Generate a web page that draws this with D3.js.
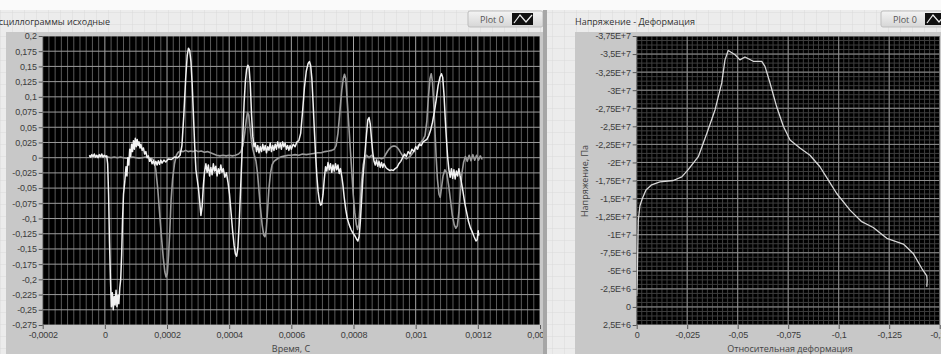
<!DOCTYPE html>
<html>
<head>
<meta charset="utf-8">
<script src="https://cdn.jsdelivr.net/npm/d3@7"></script>
<style>
  html, body { margin: 0; padding: 0; background: #fafafa; }
  svg { display: block; font-family: "Open Sans", "Noto Sans", sans-serif; }
  .axis text { font-size: 9px; fill: #3c3c3c; letter-spacing: -0.2px; }
  .axis path { display: none; }
  .axis line { stroke: #555; }
</style>
</head>
<body>
<svg id="chart" width="941" height="354"></svg>
<script>
// ---- data ----
const timeTicks = [-0.0002, 0, 0.0002, 0.0004, 0.0006, 0.0008, 0.001, 0.0012, 0.0014];
const timeTickLabels = ["-0,0002", "0", "0,0002", "0,0004", "0,0006", "0,0008", "0,001", "0,0012", "0,0014"];
const ampTicks = [0.2, 0.175, 0.15, 0.125, 0.1, 0.075, 0.05, 0.025, 0, -0.025, -0.05, -0.075, -0.1, -0.125, -0.15, -0.175, -0.2, -0.225, -0.25, -0.275];
const ampTickLabels = ["0,2", "0,175", "0,15", "0,125", "0,1", "0,075", "0,05", "0,025", "0", "-0,025", "-0,05", "-0,075", "-0,1", "-0,125", "-0,15", "-0,175", "-0,2", "-0,225", "-0,25", "-0,275"];

const strainTicks = [0, -0.025, -0.05, -0.075, -0.1, -0.125, -0.15];
const strainTickLabels = ["0", "-0,025", "-0,05", "-0,075", "-0,1", "-0,125", "-0,15"];
const stressTicks = [-3.75e7, -3.5e7, -3.25e7, -3e7, -2.75e7, -2.5e7, -2.25e7, -2e7, -1.75e7, -1.5e7, -1.25e7, -1e7, -7.5e6, -5e6, -2.5e6, 0, 2.5e6];
const stressTickLabels = ["-3,75E+7", "-3,5E+7", "-3,25E+7", "-3E+7", "-2,75E+7", "-2,5E+7", "-2,25E+7", "-2E+7", "-1,75E+7", "-1,5E+7", "-1,25E+7", "-1E+7", "-7,5E+6", "-5E+6", "-2,5E+6", "0", "2,5E+6"];

// oscillograms: [time in microseconds, value]
const whiteTrace = [
  [-50,0.004],[-46,0.001],[-42,0.005],[-38,0.002],[-34,0.006],[-30,0.001],[-26,0.004],[-22,0.0],[-18,0.005],[-14,0.002],[-10,0.006],[-6,0.001],[-2,0.004],[2,0.002],[6,0.003],
  [9,-0.01],[12,-0.06],[15,-0.14],[18,-0.2],[21,-0.245],[24,-0.222],[27,-0.25],[30,-0.228],[33,-0.242],[36,-0.218],[39,-0.245],[42,-0.226],[45,-0.24],[48,-0.214],[51,-0.2],
  [54,-0.16],[57,-0.1],[60,-0.06],[64,-0.04],[68,-0.015],[71,-0.03],[74,0.0],[77,-0.012],[80,0.014],[83,0.002],[86,0.022],[89,0.01],[92,0.028],[95,0.014],[98,0.032],
  [101,0.018],[104,0.03],[107,0.02],[110,0.026],[113,0.016],[116,0.022],[120,0.012],[124,0.016],[128,0.006],[132,0.01],[136,0.0],[140,0.003],[144,-0.006],[148,-0.002],
  [152,-0.01],[156,-0.005],[160,-0.012],[164,-0.006],[168,-0.012],[172,-0.005],[176,-0.011],[180,-0.004],[184,-0.009],[190,-0.004],[196,-0.007],[204,-0.002],[214,-0.003],
  [224,0.001],[234,0.0],[242,0.004],[248,0.02],[254,0.07],[260,0.13],[265,0.168],[269,0.18],[273,0.176],[277,0.158],[281,0.12],[285,0.07],[289,0.02],[293,-0.02],
  [297,-0.035],[301,-0.05],[305,-0.072],[309,-0.095],[313,-0.08],[317,-0.045],[321,-0.022],[325,-0.01],[329,-0.024],[333,-0.012],[337,-0.03],[341,-0.016],[345,-0.028],
  [349,-0.01],[353,-0.022],[357,-0.014],[361,-0.03],[365,-0.018],[369,-0.026],[373,-0.012],[377,-0.024],[381,-0.018],[386,-0.032],[391,-0.025],[396,-0.04],[401,-0.06],
  [406,-0.09],[411,-0.12],[416,-0.145],[420,-0.158],[424,-0.162],[428,-0.148],[432,-0.11],[436,-0.06],[440,-0.01],[444,0.04],[448,0.09],[452,0.125],[456,0.145],
  [460,0.152],[464,0.148],[468,0.12],[472,0.07],[476,0.035],[480,0.018],[484,0.024],[488,0.01],[492,0.02],[496,0.008],[500,0.018],[504,0.01],[508,0.022],[512,0.012],
  [516,0.02],[520,0.008],[524,0.018],[528,0.012],[532,0.024],[536,0.01],[540,0.02],[544,0.012],[548,0.022],[552,0.014],[556,0.026],[560,0.016],[564,0.024],[568,0.014],
  [572,0.026],[576,0.018],[580,0.024],[584,0.014],[588,0.02],[592,0.012],[596,0.02],[600,0.014],[606,0.022],[612,0.018],[618,0.026],[624,0.028],[630,0.04],[636,0.075],
  [642,0.115],[648,0.142],[654,0.155],[658,0.158],[662,0.152],[666,0.13],[670,0.09],[674,0.045],[678,0.005],[682,-0.03],[686,-0.055],[690,-0.07],[694,-0.078],[698,-0.076],
  [702,-0.06],[706,-0.035],[710,-0.015],[714,-0.022],[718,-0.008],[722,-0.02],[726,-0.01],[730,-0.024],[734,-0.012],[738,-0.022],[742,-0.01],[746,-0.02],[750,-0.012],
  [754,-0.026],[758,-0.018],[762,-0.03],[766,-0.045],[770,-0.065],[775,-0.085],[780,-0.1],[786,-0.11],[792,-0.118],[798,-0.124],[804,-0.128],[810,-0.134],[814,-0.137],
  [818,-0.13],[822,-0.105],[826,-0.07],[830,-0.035],[834,-0.01],[838,0.015],[842,0.04],[846,0.062],[850,0.066],[854,0.055],[858,0.03],[862,0.008],[866,-0.006],[870,-0.012],
  [874,-0.004],[878,-0.014],[882,-0.006],[886,-0.016],[890,-0.008],[894,-0.016],[898,-0.01],[904,-0.016],[910,-0.019],[916,-0.021],[922,-0.02],[928,-0.021],[934,-0.018],
  [940,-0.016],[946,-0.01],[952,-0.006],[958,0.0],[964,0.006],[970,0.002],[976,0.01],[982,0.006],[988,0.014],[994,0.01],[1000,0.018],[1006,0.014],[1012,0.022],[1018,0.02],
  [1024,0.026],[1030,0.028],[1036,0.03],[1042,0.036],[1048,0.045],[1054,0.058],[1060,0.075],[1066,0.095],[1072,0.118],[1078,0.132],[1083,0.138],[1087,0.132],[1091,0.105],
  [1095,0.065],[1099,0.03],[1103,0.0],[1107,-0.02],[1111,-0.032],[1115,-0.018],[1119,-0.034],[1123,-0.02],[1127,-0.035],[1131,-0.022],[1135,-0.03],[1139,-0.018],[1143,-0.03],
  [1147,-0.04],[1152,-0.055],[1158,-0.075],[1164,-0.09],[1170,-0.105],[1176,-0.115],[1182,-0.122],[1188,-0.13],[1194,-0.137],[1198,-0.135],[1201,-0.12],[1203,-0.128]
];

const grayTrace = [
  [-50,0.002],[-40,0.003],[-30,0.001],[-20,0.003],[-10,0.002],[0,0.002],[10,0.001],[20,0.0],[30,0.001],[40,0.0],[50,0.001],[60,0.0],[70,-0.001],[80,0.0],[90,0.001],
  [100,0.0],[110,-0.001],[120,0.0],[130,0.001],[140,0.0],[150,-0.001],[158,-0.004],[164,-0.02],[170,-0.05],[176,-0.09],[182,-0.13],[188,-0.165],[193,-0.188],[197,-0.196],
  [201,-0.19],[205,-0.16],[209,-0.12],[213,-0.07],[218,-0.035],[224,-0.01],[230,0.004],[236,0.009],[244,0.011],[252,0.01],[260,0.012],[268,0.01],[276,0.011],[284,0.01],
  [292,0.012],[300,0.01],[310,0.011],[320,0.009],[330,0.01],[340,0.008],[350,0.006],[360,0.004],[370,0.003],[380,0.004],[390,0.003],[400,0.004],[410,0.003],[420,0.004],
  [430,0.006],[438,0.01],[444,0.02],[450,0.04],[455,0.062],[459,0.074],[463,0.07],[467,0.05],[471,0.03],[476,0.014],[481,0.004],[486,-0.005],[491,-0.025],[496,-0.055],
  [501,-0.085],[506,-0.11],[511,-0.127],[515,-0.13],[519,-0.12],[523,-0.09],[528,-0.05],[533,-0.025],[538,-0.012],[544,-0.006],[552,-0.003],[560,0.0],[570,0.002],
  [580,0.003],[590,0.004],[600,0.004],[612,0.005],[624,0.004],[636,0.006],[648,0.005],[660,0.006],[672,0.007],[684,0.008],[696,0.008],[708,0.01],[720,0.011],[730,0.012],
  [738,0.014],[744,0.02],[750,0.04],[756,0.075],[762,0.11],[767,0.13],[771,0.137],[775,0.13],[779,0.1],[784,0.06],[789,0.02],[794,-0.02],[799,-0.06],[804,-0.09],
  [809,-0.11],[813,-0.118],[817,-0.11],[821,-0.08],[826,-0.04],[831,-0.012],[836,0.0],[842,0.004],[850,0.0],[858,0.004],[866,0.0],[874,-0.002],[882,0.0],[890,-0.002],
  [898,0.0],[904,0.006],[910,0.011],[916,0.015],[922,0.018],[928,0.019],[934,0.019],[940,0.017],[946,0.013],[952,0.008],[958,0.003],[964,0.0],[970,-0.002],[976,0.0],
  [982,0.002],[988,0.006],[994,0.01],[1000,0.014],[1006,0.018],[1012,0.022],[1018,0.026],[1024,0.03],[1030,0.036],[1036,0.06],[1041,0.1],[1046,0.13],[1050,0.138],
  [1054,0.125],[1058,0.09],[1062,0.045],[1066,0.0],[1070,-0.035],[1075,-0.06],[1079,-0.065],[1083,-0.05],[1088,-0.03],[1094,-0.02],[1100,-0.025],[1106,-0.045],
  [1112,-0.07],[1118,-0.095],[1124,-0.11],[1129,-0.116],[1134,-0.112],[1139,-0.09],[1144,-0.055],[1149,-0.025],[1154,-0.008],[1160,0.002],[1166,-0.006],[1172,0.004],
  [1178,-0.005],[1184,0.005],[1190,-0.004],[1196,0.004],[1202,-0.004],[1208,0.003],[1214,-0.003]
];

// stress-strain curve
const strainValues = [0, -0.0002, -0.0004, -0.0008, -0.0016, -0.0028, -0.0046, -0.0074, -0.0115, -0.0181, -0.0223, -0.0255, -0.0305, -0.0347, -0.0388, -0.0421, -0.0437, -0.0453, -0.0487, -0.0511, -0.0536, -0.0577, -0.0619, -0.0635, -0.066, -0.0693, -0.0726, -0.0759, -0.0808, -0.0858, -0.0907, -0.0948, -0.099, -0.1056, -0.1114, -0.1171, -0.1238, -0.132, -0.1369, -0.1411, -0.1436, -0.1438, -0.1436];
const stressValues = [-1.5e6, -3e6, -6e6, -1.2e7, -1.4e7, -1.5e7, -1.62e7, -1.69e7, -1.73e7, -1.75e7, -1.8e7, -1.9e7, -2.08e7, -2.4e7, -2.73e7, -3.1e7, -3.42e7, -3.55e7, -3.49e7, -3.42e7, -3.46e7, -3.4e7, -3.4e7, -3.33e7, -3.1e7, -2.77e7, -2.5e7, -2.31e7, -2.2e7, -2.1e7, -1.94e7, -1.76e7, -1.57e7, -1.34e7, -1.18e7, -1.1e7, -9.5e6, -8.7e6, -7.4e6, -5.35e6, -4.3e6, -3.6e6, -2.8e6];

// ---- layout ----
const W = 941, H = 354;
const left = { x0: 42.7, x1: 540, y0: 36, y1: 325 };
const right = { x0: 636.7, x1: 939.7, y0: 36, y1: 325 };

const svg = d3.select("#chart");
const defs = svg.append("defs");

// front panel background grid
const pat = defs.append("pattern")
    .attr("id", "panelGrid")
    .attr("width", 12).attr("height", 12)
    .attr("patternUnits", "userSpaceOnUse");
pat.append("rect").attr("width", 12).attr("height", 12).attr("fill", "#ececec");
pat.append("path").attr("d", "M12 0 L0 0 L0 12").attr("fill", "none").attr("stroke", "#dadada");

const legendGrad = defs.append("linearGradient").attr("id", "legendGrad").attr("x1", 0).attr("y1", 0).attr("x2", 0).attr("y2", 1);
legendGrad.append("stop").attr("offset", "0%").attr("stop-color", "#f4f4f4");
legendGrad.append("stop").attr("offset", "100%").attr("stop-color", "#d6d6d6");

defs.append("clipPath").attr("id", "clipL").append("rect")
    .attr("x", left.x0).attr("y", left.y0).attr("width", left.x1 - left.x0).attr("height", left.y1 - left.y0);
defs.append("clipPath").attr("id", "clipR").append("rect")
    .attr("x", right.x0).attr("y", right.y0).attr("width", right.x1 - right.x0).attr("height", right.y1 - right.y0);

svg.append("rect").attr("width", W).attr("height", 10).attr("fill", "#fafafa");
svg.append("rect").attr("y", 10).attr("width", W).attr("height", H - 10).attr("fill", "url(#panelGrid)");

// graph frames
svg.append("rect").attr("x", 6).attr("y", 32).attr("width", 537).attr("height", H - 32).attr("fill", "#c8c8c8");
svg.append("rect").attr("x", 543).attr("y", 10).attr("width", 4).attr("height", H - 10).attr("fill", "#a6a6a6");
svg.append("rect").attr("x", 575).attr("y", 32).attr("width", W - 575).attr("height", H - 32).attr("fill", "#c8c8c8");

// titles
svg.append("text").attr("x", 110).attr("y", 25).attr("text-anchor", "end")
    .attr("font-size", 9).attr("fill", "#333").text("Осциллограммы исходные");
svg.append("text").attr("x", 575).attr("y", 25)
    .attr("font-size", 9).attr("fill", "#333").text("Напряжение - Деформация");

// legends
function legend(x, y, w) {
    const g = svg.append("g");
    g.append("rect").attr("x", x).attr("y", y).attr("width", w).attr("height", 16).attr("rx", 2)
        .attr("fill", "url(#legendGrad)").attr("stroke", "#bdbdbd");
    g.append("text").attr("x", x + 12).attr("y", y + 11.5).attr("font-size", 9).attr("fill", "#555").text("Plot 0");
    g.append("rect").attr("x", x + 44).attr("y", y + 2).attr("width", 21).attr("height", 12).attr("fill", "#111");
    g.append("polyline")
        .attr("points", [[x + 46, y + 12], [x + 52, y + 4], [x + 58, y + 11], [x + 64, y + 4]].map(p => p.join(",")).join(" "))
        .attr("fill", "none").attr("stroke", "#eee").attr("stroke-width", 1.2);
}
legend(468, 11, 75);
legend(881, 11, 75);

// ---- left chart: oscillograms ----
const xT = d3.scaleLinear().domain([-0.0002, 0.0014]).range([left.x0, left.x1]);
const yA = d3.scaleLinear().domain([-0.275, 0.2]).range([left.y1, left.y0]);

svg.append("rect").attr("x", left.x0).attr("y", left.y0)
    .attr("width", left.x1 - left.x0).attr("height", left.y1 - left.y0).attr("fill", "#000");

const gridL = svg.append("g").attr("clip-path", "url(#clipL)");
const minorT = d3.range(-0.0002, 0.00141, 0.00002).filter(v => !timeTicks.some(t => Math.abs(t - v) < 1e-9));
gridL.selectAll(".vminor").data(minorT).enter().append("line")
    .attr("x1", d => xT(d)).attr("x2", d => xT(d)).attr("y1", left.y0).attr("y2", left.y1)
    .attr("stroke", "#5a5a5a").attr("stroke-width", 1);
gridL.selectAll(".hmaj").data(ampTicks).enter().append("line")
    .attr("x1", left.x0).attr("x2", left.x1).attr("y1", d => yA(d)).attr("y2", d => yA(d))
    .attr("stroke", "#9c9c9c").attr("stroke-width", 1);
gridL.selectAll(".vmaj").data(timeTicks).enter().append("line")
    .attr("x1", d => xT(d)).attr("x2", d => xT(d)).attr("y1", left.y0).attr("y2", left.y1)
    .attr("stroke", "#a4a4a4").attr("stroke-width", 1);

const oscLine = d3.line().x(d => xT(d[0] * 1e-6)).y(d => yA(d[1]));
const traces = svg.append("g").attr("clip-path", "url(#clipL)");
traces.append("path").datum(grayTrace).attr("d", oscLine)
    .attr("fill", "none").attr("stroke", "#9a9a9a").attr("stroke-width", 1.6).attr("stroke-linejoin", "round");
traces.append("path").datum(whiteTrace).attr("d", oscLine)
    .attr("fill", "none").attr("stroke", "#f2f2f2").attr("stroke-width", 1.5).attr("stroke-linejoin", "round");

svg.append("g").attr("class", "axis")
    .attr("transform", `translate(${left.x0},0)`)
    .call(d3.axisLeft(yA).tickValues(ampTicks).tickSize(4).tickPadding(2)
        .tickFormat((d, i) => ampTickLabels[i]));
svg.append("g").attr("class", "axis")
    .attr("transform", `translate(0,${left.y1})`)
    .call(d3.axisBottom(xT).tickValues(timeTicks).tickSize(4).tickPadding(3)
        .tickFormat((d, i) => timeTickLabels[i]));

// cover the cut label past the frame border
svg.append("rect").attr("x", 543).attr("y", 10).attr("width", 4).attr("height", H - 10).attr("fill", "#a6a6a6");
svg.append("rect").attr("x", 547).attr("y", 32).attr("width", 28).attr("height", H - 32).attr("fill", "url(#panelGrid)");

svg.append("text").attr("x", 291).attr("y", 352).attr("text-anchor", "middle")
    .attr("font-size", 9).attr("fill", "#444").text("Время, С");

// ---- right chart: stress-strain ----
const xS = d3.scaleLinear().domain([0, -0.15]).range([right.x0, right.x1]);
const yS = d3.scaleLinear().domain([2.5e6, -3.75e7]).range([right.y1, right.y0]);

svg.append("rect").attr("x", right.x0).attr("y", right.y0)
    .attr("width", right.x1 - right.x0).attr("height", right.y1 - right.y0).attr("fill", "#000");

const gridR = svg.append("g").attr("clip-path", "url(#clipR)");
const minorS = d3.range(0, -0.1501, -0.0025);
const minorP = d3.range(2.5e6, -3.76e7, -6.25e5);
gridR.selectAll(".vminor").data(minorS).enter().append("line")
    .attr("x1", d => xS(d)).attr("x2", d => xS(d)).attr("y1", right.y0).attr("y2", right.y1)
    .attr("stroke", "#3e3e3e");
gridR.selectAll(".hminor").data(minorP).enter().append("line")
    .attr("x1", right.x0).attr("x2", right.x1).attr("y1", d => yS(d)).attr("y2", d => yS(d))
    .attr("stroke", "#3e3e3e");
gridR.selectAll(".vmaj").data(strainTicks).enter().append("line")
    .attr("x1", d => xS(d)).attr("x2", d => xS(d)).attr("y1", right.y0).attr("y2", right.y1)
    .attr("stroke", "#8e8e8e");
gridR.selectAll(".hmaj").data(stressTicks).enter().append("line")
    .attr("x1", right.x0).attr("x2", right.x1).attr("y1", d => yS(d)).attr("y2", d => yS(d))
    .attr("stroke", "#8e8e8e");

const ssLine = d3.line().x((d, i) => xS(strainValues[i])).y((d, i) => yS(stressValues[i]));
svg.append("g").attr("clip-path", "url(#clipR)")
    .append("path").datum(stressValues).attr("d", ssLine)
    .attr("fill", "none").attr("stroke", "#d6d6d6").attr("stroke-width", 1.3).attr("stroke-linejoin", "round");

svg.append("g").attr("class", "axis")
    .attr("transform", `translate(${right.x0},0)`)
    .call(d3.axisLeft(yS).tickValues(stressTicks).tickSize(4).tickPadding(2)
        .tickFormat((d, i) => stressTickLabels[i]));
svg.append("g").attr("class", "axis")
    .attr("transform", `translate(0,${right.y1})`)
    .call(d3.axisBottom(xS).tickValues(strainTicks).tickSize(4).tickPadding(3)
        .tickFormat((d, i) => strainTickLabels[i]));

svg.append("text").attr("transform", "translate(588,181) rotate(-90)").attr("text-anchor", "middle")
    .attr("font-size", 9).attr("fill", "#444").text("Напряжение, Па");
svg.append("text").attr("x", 790).attr("y", 352).attr("text-anchor", "middle")
    .attr("font-size", 9).attr("fill", "#444").text("Относительная деформация");
</script>
</body>
</html>
